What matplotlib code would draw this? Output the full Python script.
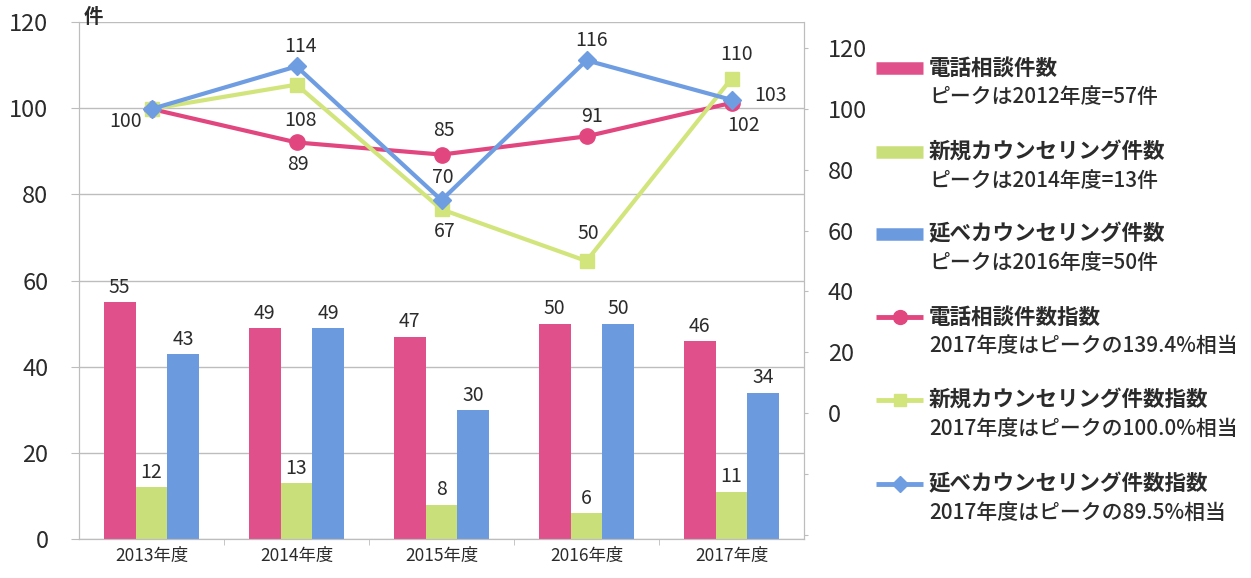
import numpy as np
import matplotlib
matplotlib.use('Agg')
from matplotlib import pyplot as plt
from matplotlib.lines import Line2D

plt.rcParams['font.family'] = ['Noto Sans CJK JP', 'DejaVu Sans']

years = ['2013年度', '2014年度', '2015年度', '2016年度', '2017年度']
phone = [55, 49, 47, 50, 46]
new_c = [12, 13, 8, 6, 11]
total_c = [43, 49, 30, 50, 34]
phone_idx = [100, 89, 85, 91, 102]
new_idx = [100, 108, 67, 50, 110]
total_idx = [100, 114, 70, 116, 103]

legend_names = ['電話相談件数', '新規カウンセリング件数', '延べカウンセリング件数',
                '電話相談件数指数', '新規カウンセリング件数指数', '延べカウンセリング件数指数']
legend_notes = ['ピークは2012年度=57件', 'ピークは2014年度=13件', 'ピークは2016年度=50件',
                '2017年度はピークの139.4%相当', '2017年度はピークの100.0%相当',
                '2017年度はピークの89.5%相当']

pink = '#e0508b'
green = '#c9df7a'
blue = '#6b9ade'
pink_l = '#e2467f'
green_l = '#d2e57c'
blue_l = '#6f9de2'
txt = '#2b2b2b'
grid = '#bdbdbd'

fig = plt.figure(figsize=(12.51, 5.78), dpi=100)
ax = fig.add_axes([79/1251, 1-539/578, 725/1251, 517/578])
ax2 = ax.twinx()

x = np.arange(len(years))
w = 0.22
b1 = ax.bar(x - w, phone, w, color=pink)
b2 = ax.bar(x, new_c, w, color=green)
b3 = ax.bar(x + w, total_c, w, color=blue)
for bars in (b1, b2, b3):
    ax.bar_label(bars, padding=3, fontsize=14, color=txt)

ax.set_xlim(-0.5, 4.5)
ax.set_ylim(0, 120)
ax.set_yticks(range(0, 121, 20))
ax.yaxis.grid(True, color=grid, lw=1)
ax.set_axisbelow(True)
ax.set_xticks(x)
ax.set_xticklabels(years, fontsize=12.5, color=txt)
ax.set_xticks(np.arange(0.5, 4, 1), minor=True)
ax.tick_params(axis='x', which='major', length=0, pad=6)
ax.tick_params(axis='x', which='minor', length=4, color=grid)
ax.tick_params(axis='y', length=6, color=grid, labelsize=17, labelcolor=txt, pad=16)
for s in ['top']:
    ax.spines[s].set_visible(False)
    ax2.spines[s].set_visible(False)
for s in ['left', 'right', 'bottom']:
    ax.spines[s].set_color(grid)
    ax2.spines[s].set_color(grid)

ax2.set_ylim(-41.4, 128.6)
ax2.set_yticks(range(-40, 121, 20))
ax2.set_yticklabels(['', ''] + [str(v) for v in range(0, 121, 20)])
ax2.tick_params(axis='y', length=3, color=grid, labelsize=17, labelcolor=txt, pad=14)

ax2.plot(x, phone_idx, color=pink_l, lw=3, marker='o', ms=11, zorder=3)
ax2.plot(x, new_idx, color=green_l, lw=3, marker='s', ms=10, zorder=3)
ax2.plot(x, total_idx, color=blue_l, lw=3, marker='D', ms=9, zorder=4)

# label offsets in points (dx, dy)
phone_off = [(-19, -9), (1, -16), (2, 17), (4, 14), (9, -16)]
new_off = [None, (3, -26), (2, -16), (1, 20), (4, 17)]
total_off = [None, (3, 14), (1, 16), (4, 14), (28, 3)]
for vals, offs in ((phone_idx, phone_off), (new_idx, new_off), (total_idx, total_off)):
    for xi, v, o in zip(x, vals, offs):
        if o is None:
            continue
        ax2.annotate(str(v), (xi, v), xytext=o, textcoords='offset points',
                     ha='center', va='center', fontsize=14, color=txt, zorder=5)

fig.text(93/1251, 1-17/578, '件', fontsize=14, color=txt, ha='center', va='center',
         fontweight='bold')

# legend drawn on the figure
handles = [
    dict(color=pink, lw=9, marker=None),
    dict(color=green, lw=9, marker=None),
    dict(color=blue, lw=9, marker=None),
    dict(color=pink_l, lw=3.5, marker='o', ms=10),
    dict(color=green_l, lw=3.5, marker='s', ms=9),
    dict(color=blue_l, lw=3.5, marker='D', ms=8),
]
rows = [68, 152, 234, 317, 400, 484]
for y, h, name, note in zip(rows, handles, legend_names, legend_notes):
    yy = 1 - y/578
    ln = Line2D([876/1251, 923/1251], [yy, yy], transform=fig.transFigure,
                color=h['color'], lw=h['lw'], solid_capstyle='butt')
    fig.add_artist(ln)
    if h['marker']:
        fig.add_artist(Line2D([899.5/1251], [yy], transform=fig.transFigure,
                              color=h['color'], marker=h['marker'], ms=h['ms'], lw=0))
    fig.text(929/1251, yy, name, fontsize=15.5, color=txt, va='center', ha='left',
             fontweight='bold')
    fig.text(929/1251, 1-(y+29)/578, note, fontsize=15, color=txt, va='center',
             ha='left', fontweight='medium')

fig.savefig('out.png', dpi=100)
